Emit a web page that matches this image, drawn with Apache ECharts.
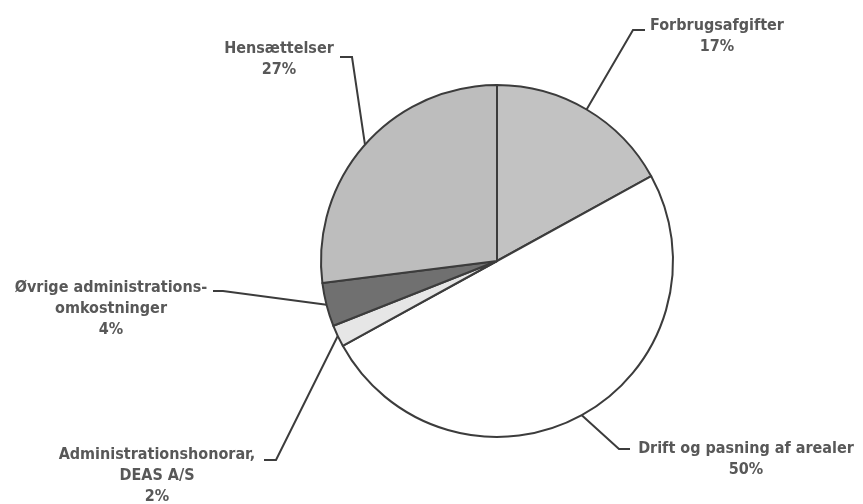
<!DOCTYPE html>
<html>
<head>
<meta charset="utf-8">
<script src="https://cdn.jsdelivr.net/npm/echarts@6/dist/echarts.min.js"></script>
<style>
  html, body { margin: 0; padding: 0; background: #fff; }
  #chart { width: 863px; height: 504px; }
</style>
</head>
<body>
<div id="chart"></div>
<script>
// Slice data (clockwise from 12 o'clock)
const categories = [
    'Forbrugsafgifter',
    'Drift og pasning af arealer',
    'Administrationshonorar,\nDEAS A/S',
    'Øvrige administrations-\nomkostninger',
    'Hensættelser'
];
const shares = [17, 50, 2, 4, 27];
const sliceColors = ['#c2c2c2', '#ffffff', '#e6e6e6', '#707070', '#bdbdbd'];

// Where each label block sits (top-centre) and the elbow of its leader line
const labelSpots = [
    { x: 717, y: 15, elbow: [633, 30], end: [645, 30] },
    { x: 746, y: 438, elbow: [619, 449], end: [630, 449] },
    { x: 157, y: 444, elbow: [276, 460], end: [264, 460] },
    { x: 111, y: 277, elbow: [223, 291], end: [213, 291] },
    { x: 279, y: 38, elbow: [352, 57], end: [340, 57] }
];

const chartDom = document.getElementById('chart');
const myChart = echarts.init(chartDom, null, { renderer: 'canvas' });

const pieData = categories.map((name, i) => ({
    name: name,
    value: shares[i],
    itemStyle: { color: sliceColors[i] }
}));

const option = {
    animation: false,
    backgroundColor: '#ffffff',
    series: [
        {
            type: 'pie',
            center: [497, 261],
            radius: 176,
            startAngle: 90,
            clockwise: true,
            avoidLabelOverlap: false,
            itemStyle: {
                borderColor: '#3c3c3c',
                borderWidth: 2
            },
            label: {
                show: true,
                position: 'outside',
                fontFamily: '"DejaVu Sans Condensed"',
                fontSize: 16,
                fontWeight: 'bold',
                color: '#585858',
                lineHeight: 21,
                align: 'center',
                formatter: function (p) {
                    return p.name + '\n' + p.value + '%';
                }
            },
            labelLine: {
                show: true,
                lineStyle: { color: '#3c3c3c', width: 2 }
            },
            labelLayout: function (params) {
                const spot = labelSpots[params.dataIndex];
                const start = params.labelLinePoints ? params.labelLinePoints[0] : spot.elbow;
                return {
                    x: spot.x,
                    y: spot.y,
                    align: 'center',
                    verticalAlign: 'top',
                    labelLinePoints: [start, spot.elbow, spot.end]
                };
            },
            data: pieData
        }
    ]
};

myChart.setOption(option);

window.addEventListener('resize', () => {
    myChart.resize();
});
</script>
</body>
</html>
